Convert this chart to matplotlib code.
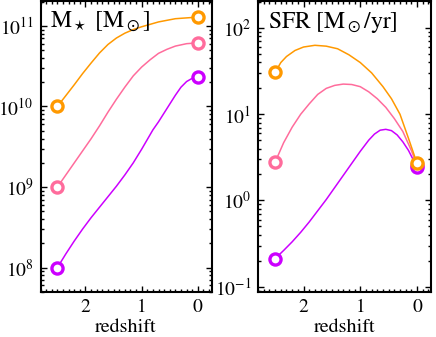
import numpy as np
import matplotlib
matplotlib.use("Agg")
import matplotlib.pyplot as plt
from matplotlib.ticker import LogLocator, MultipleLocator, NullFormatter, FixedLocator

plt.rcParams["font.family"] = "STIXGeneral"
plt.rcParams["mathtext.fontset"] = "stix"

# --- data: redshift and log10 of the value ---
# stellar mass, log10(M / Msun)
z_mass_orange = [2.5, 2.35, 2.2, 2.05, 1.9, 1.75, 1.6, 1.45, 1.3, 1.15, 1.0, 0.85, 0.7, 0.55, 0.4, 0.2, 0.0]
logm_orange = [10.0, 10.135, 10.27, 10.41, 10.54, 10.665, 10.77, 10.85, 10.91, 10.955, 10.99,
               11.02, 11.05, 11.07, 11.09, 11.10, 11.11]

z_mass_pink = [2.5, 2.35, 2.2, 2.05, 1.9, 1.75, 1.6, 1.45, 1.3, 1.15, 1.0, 0.85, 0.7, 0.55, 0.4, 0.2, 0.0]
logm_pink = [9.0, 9.15, 9.3, 9.45, 9.6, 9.76, 9.93, 10.09, 10.24, 10.38, 10.49,
             10.58, 10.66, 10.71, 10.75, 10.78, 10.79]

z_mass_purple = [2.5, 2.35, 2.2, 2.05, 1.9, 1.75, 1.6, 1.45, 1.3, 1.15, 1.0, 0.9, 0.8, 0.7,
                 0.6, 0.5, 0.4, 0.3, 0.2, 0.1, 0.0]
logm_purple = [8.0, 8.17, 8.33, 8.48, 8.62, 8.75, 8.88, 9.01, 9.15, 9.30, 9.47, 9.59, 9.71, 9.81,
               9.92, 10.03, 10.14, 10.24, 10.31, 10.35, 10.37]

# star formation rate, log10(SFR / Msun yr^-1)
z_sfr_orange = [2.5, 2.4, 2.3, 2.15, 2.0, 1.8, 1.6, 1.4, 1.2, 1.0, 0.8, 0.6, 0.45, 0.3, 0.15, 0.0]
logsfr_orange = [1.486, 1.6, 1.67, 1.74, 1.78, 1.80, 1.79, 1.76, 1.69, 1.60, 1.48, 1.32,
                 1.18, 1.00, 0.72, 0.43]

z_sfr_pink = [2.5, 2.35, 2.2, 2.05, 1.9, 1.75, 1.6, 1.45, 1.3, 1.15, 1.0, 0.85, 0.7, 0.55,
              0.4, 0.25, 0.1, 0.0]
logsfr_pink = [0.445, 0.67, 0.85, 1.0, 1.12, 1.23, 1.30, 1.335, 1.35, 1.345, 1.32, 1.26, 1.18,
               1.08, 0.95, 0.80, 0.58, 0.41]

z_sfr_purple = [2.5, 2.35, 2.2, 2.05, 1.9, 1.75, 1.6, 1.45, 1.3, 1.15, 1.0, 0.85, 0.75, 0.65,
                0.55, 0.45, 0.35, 0.25, 0.15, 0.05, 0.0]
logsfr_purple = [-0.675, -0.58, -0.48, -0.37, -0.25, -0.12, 0.01, 0.15, 0.29, 0.43, 0.57, 0.70,
                 0.77, 0.815, 0.825, 0.81, 0.76, 0.68, 0.58, 0.45, 0.39]

colors = {"orange": "#ff9900", "pink": "#ff6c9c", "purple": "#cc00ff"}

fig = plt.figure(figsize=(4.36, 3.37), dpi=100)
ax1 = fig.add_axes([0.093, 0.134, 0.393, 0.863])
ax2 = fig.add_axes([0.592, 0.134, 0.397, 0.863])


def draw(ax, z, logy, c):
    y = np.power(10.0, logy)
    ax.plot(z, y, color=c, lw=1.1, zorder=2)
    ax.plot([z[0], z[-1]], [y[0], y[-1]], "o", ms=8, mew=2.4,
            mec=c, mfc="white", zorder=3, clip_on=False)


draw(ax1, z_mass_purple, logm_purple, colors["purple"])
draw(ax1, z_mass_pink, logm_pink, colors["pink"])
draw(ax1, z_mass_orange, logm_orange, colors["orange"])

draw(ax2, z_sfr_pink, logsfr_pink, colors["pink"])
draw(ax2, z_sfr_purple, logsfr_purple, colors["purple"])
draw(ax2, z_sfr_orange, logsfr_orange, colors["orange"])

ax1.set_ylim(5e7, 2.04e11)
ax2.set_ylim(0.087, 206)

for ax in (ax1, ax2):
    ax.set_yscale("log")
    ax.set_xlim(2.8, -0.25)
    ax.xaxis.set_major_locator(FixedLocator([2, 1, 0]))
    ax.set_xticklabels(["2", "1", "0"])
    ax.xaxis.set_minor_locator(MultipleLocator(0.1))
    ax.yaxis.set_major_locator(LogLocator(base=10, numticks=20))
    ax.yaxis.set_minor_locator(LogLocator(base=10, subs=np.arange(2, 10), numticks=20))
    ax.yaxis.set_minor_formatter(NullFormatter())
    ax.tick_params(which="both", direction="in", top=True, right=True,
                   labelsize=14, width=1.0)
    ax.tick_params(which="major", length=4)
    ax.tick_params(which="minor", length=2)
    ax.tick_params(axis="x", pad=5)
    ax.tick_params(axis="y", pad=5)
    for s in ax.spines.values():
        s.set_linewidth(1.5)
    ax.set_xlabel("redshift", fontsize=14.5, labelpad=2)

ax1.text(0.058, 0.907, r"M$_\star$ [M$_\odot$]", transform=ax1.transAxes,
         fontsize=17, va="baseline", ha="left")
ax2.text(0.058, 0.907, r"SFR [M$_\odot$/yr]", transform=ax2.transAxes,
         fontsize=17, va="baseline", ha="left")

fig.savefig("out.png", dpi=100)
